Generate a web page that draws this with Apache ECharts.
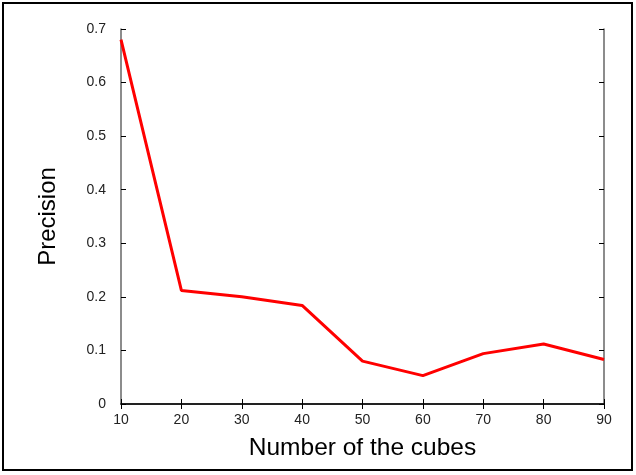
<!DOCTYPE html>
<html><head><meta charset="utf-8">
<script src="https://cdn.jsdelivr.net/npm/echarts@6/dist/echarts.min.js"></script>
<style>html,body{margin:0;padding:0;background:#fff}#c{width:636px;height:475px}</style>
</head><body><div id="c"></div>
<script>
const cubes = [10, 20, 30, 40, 50, 60, 70, 80, 90];
const precision = [0.680, 0.212, 0.200, 0.184, 0.080, 0.053, 0.094, 0.112, 0.083];
const xTicks = [10, 20, 30, 40, 50, 60, 70, 80, 90];
const yTicks = [0, 0.1, 0.2, 0.3, 0.4, 0.5, 0.6, 0.7];

const font = 'Liberation Sans, Arial, sans-serif';
const chart = echarts.init(document.getElementById('c'), null, {renderer: 'canvas'});
const axisCommon = {
  axisLine: {show: true, lineStyle: {color: '#666', width: 1.5}},
  axisTick: {show: true, inside: true, length: 5, lineStyle: {color: '#000', width: 1}},
  splitLine: {show: false}
};
chart.setOption({
  animation: false,
  graphic: [{type: 'rect', shape: {x: 3, y: 3, width: 629, height: 467}, style: {fill: 'none', stroke: '#000', lineWidth: 2}}],
  grid: {left: 121, right: 32, top: 29, bottom: 71},
  xAxis: [
    Object.assign({type: 'value', min: 10, max: 90, interval: 10, position: 'bottom',
      name: 'Number of the cubes', nameLocation: 'middle', nameGap: 32,
      nameTextStyle: {fontFamily: font, fontSize: 24.5, color: '#000'},
      axisLabel: {fontFamily: font, fontSize: 14, color: '#222', margin: 9,
        formatter: v => xTicks.includes(v) ? String(v) : ''}}, axisCommon),
    Object.assign({type: 'value', min: 10, max: 90, interval: 10, position: 'top',
      axisLabel: {show: false}}, axisCommon, {axisLine: {show: true, lineStyle: {color: '#000', width: 1.5}}})
  ],
  yAxis: [
    Object.assign({type: 'value', min: 0, max: 0.7, interval: 0.1, position: 'left',
      name: 'Precision', nameLocation: 'middle', nameGap: 61,
      nameTextStyle: {fontFamily: font, fontSize: 24, color: '#000'},
      axisLabel: {fontFamily: font, fontSize: 14, color: '#222', margin: 15,
        formatter: v => { const t = yTicks.find(y => Math.abs(y - v) < 1e-9); return t === undefined ? '' : (t === 0 ? '0' : t.toFixed(1)); }}}, axisCommon),
    Object.assign({type: 'value', min: 0, max: 0.7, interval: 0.1, position: 'right',
      axisLabel: {show: false}}, axisCommon)
  ],
  series: [{
    type: 'line', xAxisIndex: 0, yAxisIndex: 0,
    data: cubes.map((c, i) => [c, precision[i]]),
    showSymbol: false, symbol: 'none',
    lineStyle: {color: '#ff0000', width: 3},
    itemStyle: {color: '#ff0000'}
  }]
});
</script></body></html>
